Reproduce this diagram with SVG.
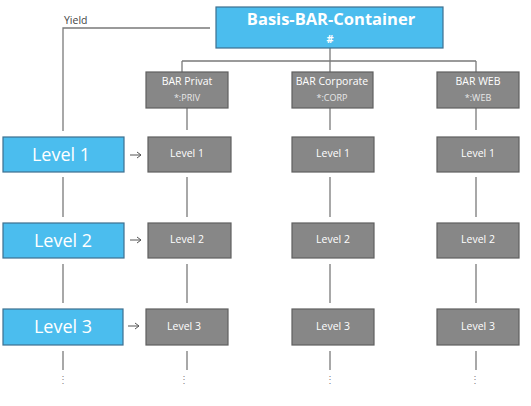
<svg xmlns="http://www.w3.org/2000/svg" width="531" height="406" viewBox="0 0 531 406">
<defs>
<style>
.blue{fill:#4bbdee;stroke:#3d6f8f;stroke-width:1.2}
.grey{fill:#878787;stroke:#5f5f5f;stroke-width:1.2}
.ln{stroke:#7a7a7a;stroke-width:1.3;fill:none}
.t{font-family:"Open Sans","Liberation Sans",sans-serif;fill:#ffffff;text-anchor:middle}
.big{font-size:18px}
.sm{font-size:10.5px}
.sub{font-size:9px;fill:#e8e8e8}
.dots{font-family:"Open Sans","Liberation Sans",sans-serif;font-size:10px;fill:#888;text-anchor:middle}
</style>
<marker id="ah" markerWidth="8" markerHeight="8" refX="7" refY="4" orient="auto" markerUnits="userSpaceOnUse">
<path d="M3,1 L7,4 L3,7" fill="none" stroke="#555" stroke-width="1"/>
</marker>
</defs>
<rect width="531" height="406" fill="#ffffff"/>
<g id="connectors">
<path class="ln" d="M210,28 H63 V131"/>
<path class="ln" d="M330,48 V61 M182,61 H476 M182,61 V72 M330,61 V72 M476,61 V72"/>
<path class="ln" d="M187,108 V130 M330,108 V130 M476,108 V130"/>
<path class="ln" d="M63,177 V217 M187,177 V217 M330,177 V217 M476,177 V217"/>
<path class="ln" d="M63,264 V303 M187,264 V303 M330,264 V303 M476,264 V303"/>
<path class="ln" d="M63,351 V370 M187,351 V370 M330,351 V370 M476,351 V370"/>
<path d="M130,155 H141" stroke="#555" stroke-width="1" marker-end="url(#ah)"/>
<path d="M130,240 H141" stroke="#555" stroke-width="1" marker-end="url(#ah)"/>
<path d="M128,326 H139" stroke="#555" stroke-width="1" marker-end="url(#ah)"/>
</g>
<text x="64" y="24" font-family="Open Sans, Liberation Sans, sans-serif" font-size="10.5" fill="#444">Yield</text>
<g id="root">
<rect class="blue" x="216" y="7" width="227" height="41"/>
<text class="t" x="331" y="25" font-size="16.5" font-weight="bold">Basis-BAR-Container</text>
<text class="t" x="330" y="43" font-size="11" font-weight="bold">#</text>
</g>
<g id="bar-privat">
<rect class="grey" x="146" y="72" width="82" height="36"/>
<text class="t sm" x="187" y="85">BAR Privat</text>
<text class="t sub" x="187" y="101">*:PRIV</text>
</g>
<g id="bar-corporate">
<rect class="grey" x="292" y="72" width="81" height="36"/>
<text class="t sm" x="332" y="85">BAR Corporate</text>
<text class="t sub" x="332" y="101">*:CORP</text>
</g>
<g id="bar-web">
<rect class="grey" x="437" y="72" width="82" height="36"/>
<text class="t sm" x="478" y="85">BAR WEB</text>
<text class="t sub" x="478" y="101">*:WEB</text>
</g>
<g id="level1-blue"><rect class="blue" x="3" y="137" width="121" height="35"/><text class="t big" x="61" y="161">Level 1</text></g>
<g id="level2-blue"><rect class="blue" x="3" y="223" width="121" height="35"/><text class="t big" x="63" y="247">Level 2</text></g>
<g id="level3-blue"><rect class="blue" x="3" y="309" width="120" height="36"/><text class="t big" x="63" y="333">Level 3</text></g>
<g id="privat-l1"><rect class="grey" x="148" y="137" width="83" height="35"/><text class="t sm" x="187" y="157">Level 1</text></g>
<g id="privat-l2"><rect class="grey" x="148" y="223" width="83" height="35"/><text class="t sm" x="187" y="243">Level 2</text></g>
<g id="privat-l3"><rect class="grey" x="146" y="309" width="82" height="36"/><text class="t sm" x="184" y="330">Level 3</text></g>
<g id="corp-l1"><rect class="grey" x="292" y="137" width="82" height="35"/><text class="t sm" x="333" y="157">Level 1</text></g>
<g id="corp-l2"><rect class="grey" x="292" y="223" width="82" height="35"/><text class="t sm" x="333" y="243">Level 2</text></g>
<g id="corp-l3"><rect class="grey" x="292" y="309" width="82" height="36"/><text class="t sm" x="333" y="330">Level 3</text></g>
<g id="web-l1"><rect class="grey" x="437" y="137" width="82" height="35"/><text class="t sm" x="478" y="157">Level 1</text></g>
<g id="web-l2"><rect class="grey" x="437" y="223" width="82" height="35"/><text class="t sm" x="478" y="243">Level 2</text></g>
<g id="web-l3"><rect class="grey" x="437" y="309" width="82" height="36"/><text class="t sm" x="478" y="330">Level 3</text></g>
<text class="dots" x="63" y="383">⋮</text>
<text class="dots" x="184" y="383">⋮</text>
<text class="dots" x="330" y="383">⋮</text>
<text class="dots" x="475" y="383">⋮</text>
</svg>
